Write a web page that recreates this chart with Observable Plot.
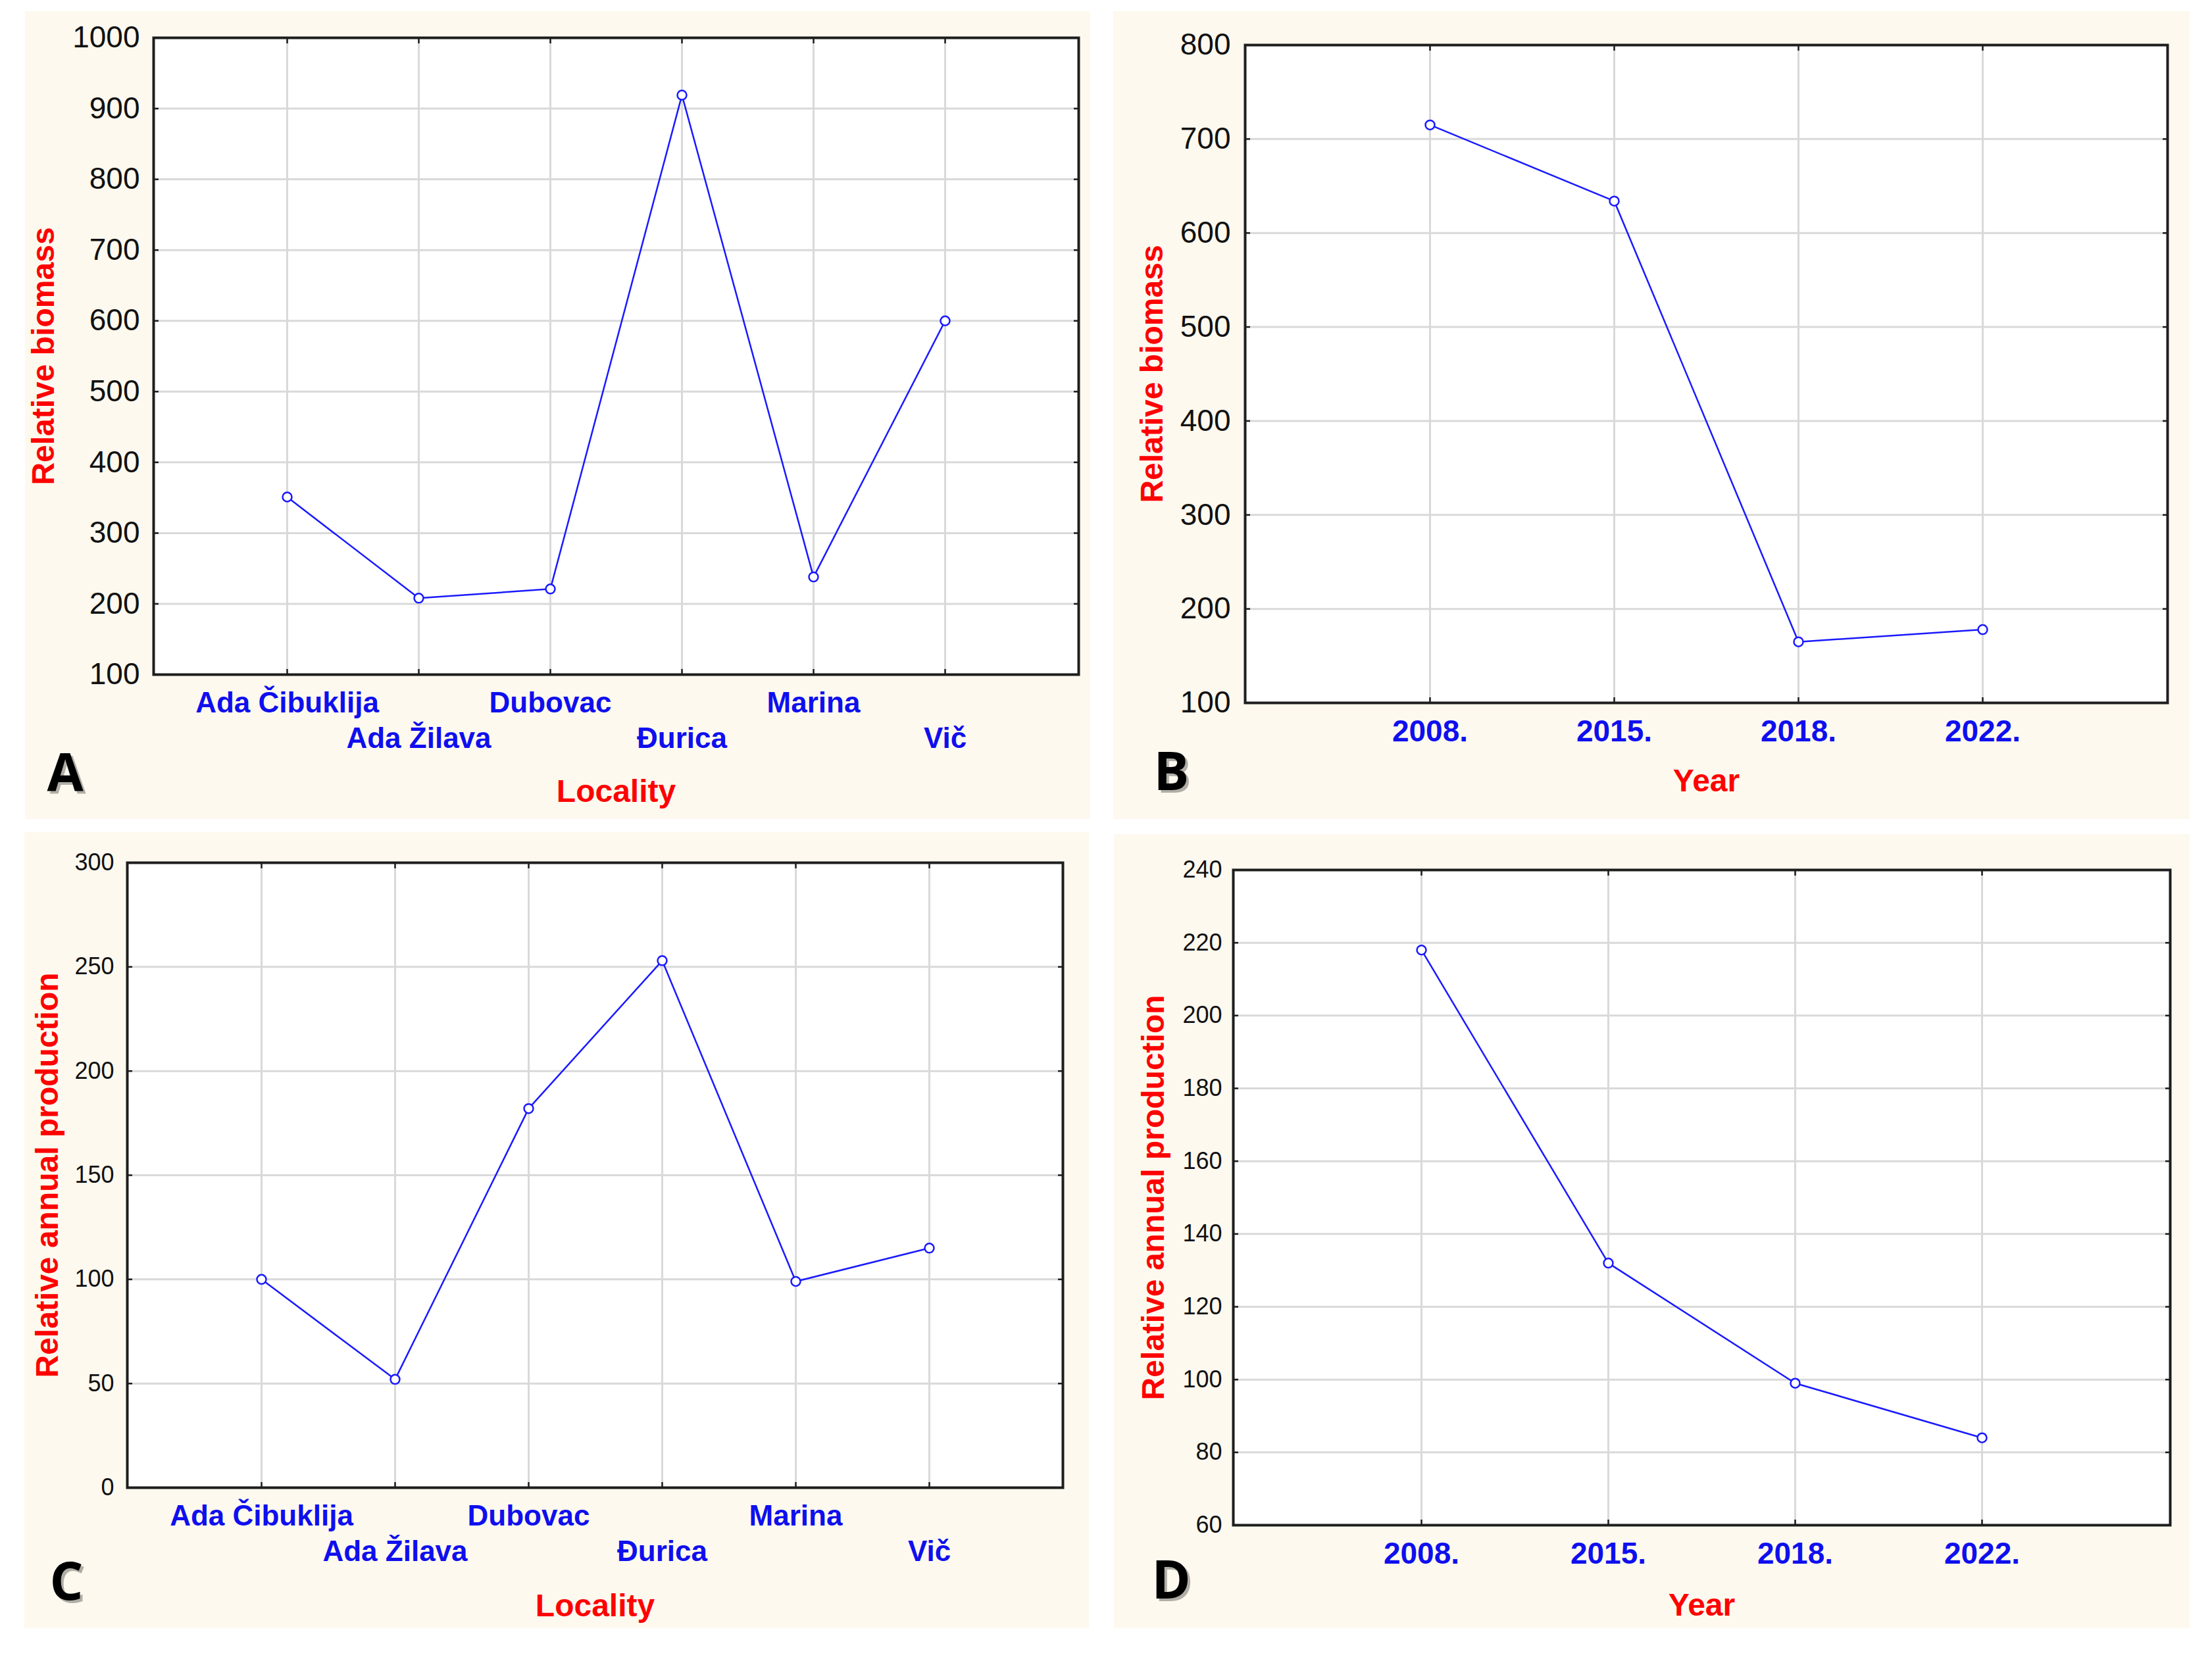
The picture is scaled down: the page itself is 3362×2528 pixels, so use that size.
<!DOCTYPE html>
<html>
<head>
<meta charset="utf-8">
<script src="https://cdn.jsdelivr.net/npm/d3@7"></script>
<script src="https://cdn.jsdelivr.net/npm/@observablehq/plot@0.6"></script>
<style>
  html, body { margin: 0; padding: 0; background: #ffffff; }
  #page { position: relative; width: 3362px; height: 2528px; background: #ffffff; overflow: hidden; }
  .panel { position: absolute; background: #fdf9ef; }
  .panel svg { display: block; background: transparent; overflow: visible; max-width: none; }
</style>
</head>
<body>
<div id="page"></div>
<script>
// ---------- data ----------
const localities = ["Ada Čibuklija", "Ada Žilava", "Dubovac", "Đurica", "Marina", "Vič"];
const biomassByLocality = [351, 208, 221, 919, 238, 600];
const productionByLocality = [100, 52, 182, 253, 99, 115];

const years = ["2008.", "2015.", "2018.", "2022."];
const biomassByYear = [715, 634, 165, 178];
const productionByYear = [218, 132, 99, 84];

const yTicksA = [100, 200, 300, 400, 500, 600, 700, 800, 900, 1000];
const yTicksB = [100, 200, 300, 400, 500, 600, 700, 800];
const yTicksC = [0, 50, 100, 150, 200, 250, 300];
const yTicksD = [60, 80, 100, 120, 140, 160, 180, 200, 220, 240];

const labelBiomass = "Relative biomass";
const labelProduction = "Relative annual production";
const labelLocality = "Locality";
const labelYear = "Year";

// ---------- drawing ----------
const LINE = "#1a1aff";
const CAT = "#0f0fee";
const RED = "#ff0000";
const FRAME = "#1e1e1e";
const GRID = "#d9d9d9";
const NUMFONT = "'Liberation Sans Narrow', 'Arial Narrow', 'Liberation Sans', Arial, sans-serif";
const SANS = "'Liberation Sans', Arial, sans-serif";

function panel(cfg) {
  const data = cfg.cats.map((c, i) => ({cat: c, v: cfg.values[i]}));
  const yt = cfg.yTicks;
  const dom = [yt[0], yt[yt.length - 1]];
  const even = cfg.cats.filter((_, i) => i % 2 === 0);
  const odd = cfg.cats.filter((_, i) => i % 2 === 1);
  const blank = () => "";
  const tickStyle = {stroke: FRAME, strokeWidth: 2.5, tickFormat: blank, label: null};
  const catStyle = {tickSize: 0, fill: CAT, fontSize: cfg.catFont, fontWeight: "bold", fontFamily: SANS, label: null};

  const marks = [
    Plot.frame({fill: "white", stroke: null}),
    Plot.gridY({ticks: yt, stroke: GRID, strokeOpacity: 1, strokeWidth: 3}),
    Plot.gridX({ticks: cfg.cats, stroke: GRID, strokeOpacity: 1, strokeWidth: 3}),
    // inward tick marks on all four sides
    Plot.axisY({ticks: yt, anchor: "left", tickSize: 8, dx: 8, ...tickStyle}),
    Plot.axisY({ticks: yt, anchor: "right", tickSize: 8, dx: -8, ...tickStyle}),
    Plot.axisX({ticks: cfg.cats, anchor: "bottom", tickSize: 8, dy: -8, ...tickStyle}),
    Plot.axisX({ticks: cfg.cats, anchor: "top", tickSize: 8, dy: 8, ...tickStyle}),
    // tick labels
    Plot.axisY({ticks: yt, anchor: "left", tickSize: 0, tickPadding: cfg.yPad, fontSize: cfg.numFont,
      tickFormat: d => String(d), fontFamily: NUMFONT, fill: "#111", label: null}),
  ];
  if (cfg.stagger) {
    marks.push(Plot.axisX({ticks: even, anchor: "bottom", tickPadding: cfg.row1, ...catStyle}));
    marks.push(Plot.axisX({ticks: odd, anchor: "bottom", tickPadding: cfg.row2, ...catStyle}));
  } else {
    marks.push(Plot.axisX({ticks: cfg.cats, anchor: "bottom", tickPadding: cfg.row1, ...catStyle}));
  }
  marks.push(
    Plot.line(data, {x: "cat", y: "v", stroke: LINE, strokeWidth: 2.5}),
    Plot.dot(data, {x: "cat", y: "v", r: 7, stroke: LINE, strokeWidth: 2.5, fill: "white"}),
    Plot.frame({stroke: FRAME, strokeWidth: 4}),
    Plot.text([cfg.yLabel], {text: d => d, frameAnchor: "left", dx: cfg.yLabelDx, rotate: -90,
      textAnchor: "middle", lineAnchor: "middle", fill: RED, fontSize: 48, fontWeight: "bold", fontFamily: SANS}),
    Plot.text([cfg.xLabel], {text: d => d, frameAnchor: "bottom", dy: cfg.xLabelDy,
      textAnchor: "middle", lineAnchor: "middle", fill: RED, fontSize: 48, fontWeight: "bold", fontFamily: NUMFONT}),
    Plot.text([cfg.letter], {text: d => d, frameAnchor: "bottom-left", dx: cfg.letterDx + 4, dy: cfg.letterDy + 4,
      textAnchor: "start", lineAnchor: "middle", fill: "#000", fillOpacity: 0.3, fontSize: 80, fontWeight: "bold",
      fontFamily: "'Open Sans', 'Liberation Sans', sans-serif"}),
    Plot.text([cfg.letter], {text: d => d, frameAnchor: "bottom-left", dx: cfg.letterDx, dy: cfg.letterDy,
      textAnchor: "start", lineAnchor: "middle", fill: "#000", fontSize: 80, fontWeight: "bold",
      fontFamily: "'Open Sans', 'Liberation Sans', sans-serif"})
  );

  const plot = Plot.plot({
    width: cfg.w, height: cfg.h,
    marginLeft: cfg.mL, marginTop: cfg.mT, marginRight: cfg.mR, marginBottom: cfg.mB,
    style: {background: "transparent", fontFamily: SANS, overflow: "visible"},
    x: {type: "point", domain: cfg.cats, padding: 1, label: null, axis: null},
    y: {domain: dom, label: null, axis: null},
    marks
  });
  const div = document.createElement("div");
  div.className = "panel";
  div.style.left = cfg.left + "px";
  div.style.top = cfg.top + "px";
  div.style.width = cfg.w + "px";
  div.style.height = cfg.h + "px";
  div.appendChild(plot);
  document.getElementById("page").appendChild(div);
}

panel({
  cats: localities, values: biomassByLocality, yTicks: yTicksA, stagger: true,
  yLabel: labelBiomass, xLabel: labelLocality, letter: "A",
  left: 38, top: 17, w: 1619, h: 1228, mL: 195, mT: 40, mR: 18, mB: 220,
  numFont: 46, catFont: 44, yPad: 21, row1: 26, row2: 80,
  yLabelDx: -167, xLabelDy: 178, letterDx: -162, letterDy: 152
});
panel({
  cats: years, values: biomassByYear, yTicks: yTicksB, stagger: false,
  yLabel: labelBiomass, xLabel: labelYear, letter: "B",
  left: 1692, top: 17, w: 1636, h: 1228, mL: 200, mT: 51, mR: 34, mB: 177,
  numFont: 46, catFont: 46, yPad: 22, row1: 26, row2: 26,
  yLabelDx: -141, xLabelDy: 119, letterDx: -139, letterDy: 107
});
panel({
  cats: localities, values: productionByLocality, yTicks: yTicksC, stagger: true,
  yLabel: labelProduction, xLabel: labelLocality, letter: "C",
  left: 37, top: 1265, w: 1618, h: 1210, mL: 156, mT: 46, mR: 40, mB: 214,
  numFont: 36, catFont: 44, yPad: 20, row1: 26, row2: 80,
  yLabelDx: -121, xLabelDy: 180, letterDx: -118, letterDy: 145
});
panel({
  cats: years, values: productionByYear, yTicks: yTicksD, stagger: false,
  yLabel: labelProduction, xLabel: labelYear, letter: "D",
  left: 1693, top: 1268, w: 1635, h: 1207, mL: 181, mT: 54, mR: 30, mB: 157,
  numFont: 36, catFont: 46, yPad: 17, row1: 26, row2: 26,
  yLabelDx: -121, xLabelDy: 122, letterDx: -124, letterDy: 86
});
</script>
</body>
</html>
